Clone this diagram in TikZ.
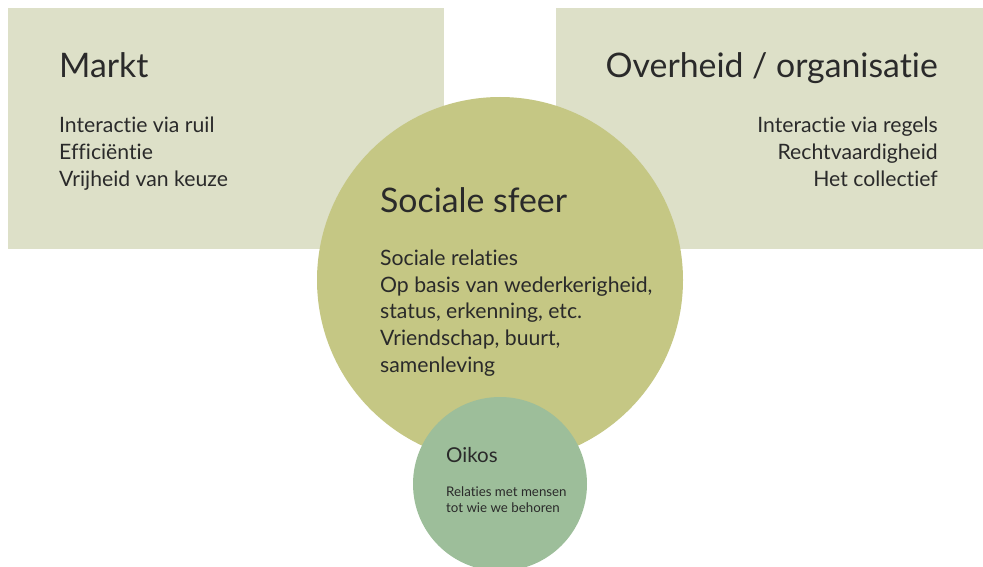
\documentclass[tikz,border=0pt]{standalone}
\usepackage{fontspec}
\setmainfont{Lato}[RawFeature=-liga]
\definecolor{boxc}{HTML}{DDE0C8}
\definecolor{bigc}{HTML}{C5C784}
\definecolor{smallc}{HTML}{9DBE9A}
\definecolor{txt}{HTML}{2A2A2A}
\tikzset{
  panel/.style={fill=boxc, draw=none, inner sep=0pt, minimum width=436pt, minimum height=241pt},
  bigdisc/.style={circle, fill=bigc, draw=none, inner sep=0pt, minimum size=366pt},
  smalldisc/.style={circle, fill=smallc, draw=none, inner sep=0pt, minimum size=174pt},
  ttl/.style={inner sep=0pt, text=txt, font=\fontsize{33.8}{38}\selectfont},
  body/.style={inner sep=0pt, text=txt, font=\fontsize{21.2}{26.6}\selectfont},
  oikosttl/.style={inner sep=0pt, text=txt, font=\fontsize{20.5}{24}\selectfont},
  oikosbody/.style={inner sep=0pt, text=txt, font=\fontsize{13.3}{16}\selectfont},
}
\begin{document}
\begin{tikzpicture}[x=1pt,y=-1pt]
\useasboundingbox (0,0) rectangle (983,567);
\node[panel] (marktbox) at (226,128.5) {};
\node[panel, minimum width=427pt] (overheidbox) at (769.5,128.5) {};
\node[bigdisc] (sociaal) at (500,280) {};
\node[smalldisc] (oikos) at (500,484) {};
\node[ttl, anchor=base west] (marktt) at (59,78) {Markt};
\node[body, anchor=base west, align=left] (marktb) at (59,186) {Interactie via ruil\\Efficiëntie\\Vrijheid van keuze};
\node[ttl, anchor=base east] (overt) at (938,78) {Overheid / organisatie};
\node[body, anchor=base east, align=right] (overb) at (938,186) {Interactie via regels\\Rechtvaardigheid\\Het collectief};
\node[ttl, anchor=base west] (socialt) at (380,212) {Sociale sfeer};
\node[body, anchor=base west, align=left] (socialb) at (380,372) {Sociale relaties\\Op basis van wederkerigheid,\\status, erkenning, etc.\\Vriendschap, buurt,\\samenleving};
\node[oikosttl, anchor=base west] (oikost) at (446,462) {Oikos};
\node[oikosbody, anchor=base west, align=left] (oikosb) at (446,512) {Relaties met mensen\\tot wie we behoren};
\end{tikzpicture}
\end{document}
